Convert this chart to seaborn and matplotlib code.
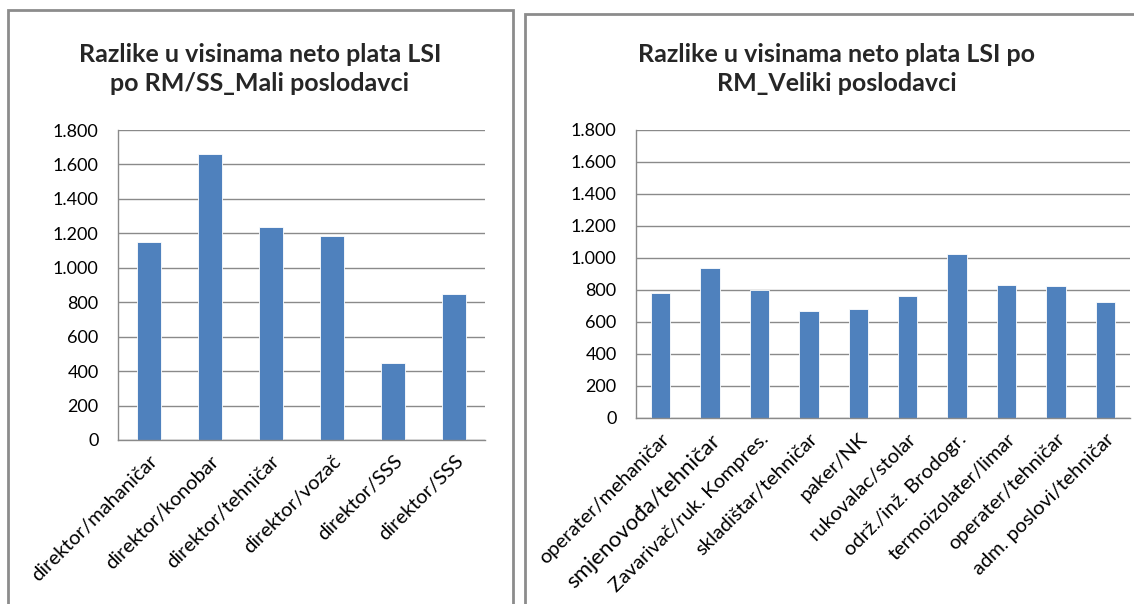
import pandas as pd
import matplotlib.pyplot as plt
import seaborn as sns
from matplotlib.ticker import FuncFormatter
from matplotlib.patches import Rectangle

# values
mali_labels = ["direktor/mahaničar", "direktor/konobar", "direktor/tehničar",
               "direktor/vozač", "direktor/SSS", "direktor/SSS"]
mali_values = [1148, 1663, 1235, 1185, 445, 850]

veliki_labels = ["operater/mehaničar", "smjenovođa/tehničar", "Zavarivač/ruk. Kompres.",
                 "skladištar/tehničar", "paker/NK", "rukovalac/stolar",
                 "održ./inž. Brodogr.", "termoizolater/limar", "operater/tehničar",
                 "adm. poslovi/tehničar"]
veliki_values = [784, 936, 799, 666, 680, 762, 1024, 834, 826, 722]

y_ticks = [0, 200, 400, 600, 800, 1000, 1200, 1400, 1600, 1800]

sns.set_style("white")
plt.rcParams['font.family'] = ['Lato', 'DejaVu Sans']

W, H = 1134, 604
fig = plt.figure(figsize=(W / 100, H / 100), dpi=100)

grid_col = "#8a8a8a"
bar_col = "#4f81bd"


def fmt(v, pos):
    return f"{int(v):,}".replace(",", ".")


def draw_panel(rect, labels, values, title, title_x):
    ax = fig.add_axes(rect)
    df = pd.DataFrame({"idx": range(len(values)), "val": values})
    sns.barplot(data=df, x="idx", y="val", color=bar_col, width=0.39,
                saturation=1, edgecolor="white", linewidth=0.6, ax=ax)
    ax.set_ylim(0, 1800)
    ax.set_yticks(y_ticks)
    ax.yaxis.set_major_formatter(FuncFormatter(fmt))
    ax.set_xlim(-0.5, len(values) - 0.5)
    ax.set_xticks(range(len(values)))
    ax.set_xticklabels(labels, rotation=45, ha="right", rotation_mode="anchor")
    ax.tick_params(axis="y", length=0, labelsize=13, colors="black", pad=14)
    ax.tick_params(axis="x", length=0, labelsize=14.5, colors="black", pad=9)
    ax.grid(axis="y", color=grid_col, linewidth=1)
    ax.set_axisbelow(True)
    for s in ["top", "right"]:
        ax.spines[s].set_visible(False)
    for s in ["left", "bottom"]:
        ax.spines[s].set_color(grid_col)
        ax.spines[s].set_linewidth(1)
    ax.set_xlabel("")
    ax.set_ylabel("")
    fig.text(title_x / W, 1 - 69 / H, title, ha="center", va="center",
             fontsize=18, fontweight="bold", linespacing=1.35)
    return ax


draw_panel([118 / W, (H - 440) / H, 367 / W, 310 / H], mali_labels, mali_values,
           "Razlike u visinama neto plata LSI\npo RM/SS_Mali poslodavci", 260)
ax2 = draw_panel([636 / W, (H - 418) / H, 494 / W, 288 / H], veliki_labels, veliki_values,
                 "Razlike u visinama neto plata LSI po\nRM_Veliki poslodavci", 837)
ax2.get_xticklabels()[1].set_fontsize(16)

# panel frames
fig.add_artist(Rectangle((8 / W, -0.05), 505 / W, 1.05 - 10 / H, transform=fig.transFigure,
                         fill=False, edgecolor="#8c8c8c", linewidth=2))
fig.add_artist(Rectangle((525 / W, -0.05), 0.6, 1.05 - 14 / H, transform=fig.transFigure,
                         fill=False, edgecolor="#8c8c8c", linewidth=2))

fig.savefig("out.png", dpi=100)
